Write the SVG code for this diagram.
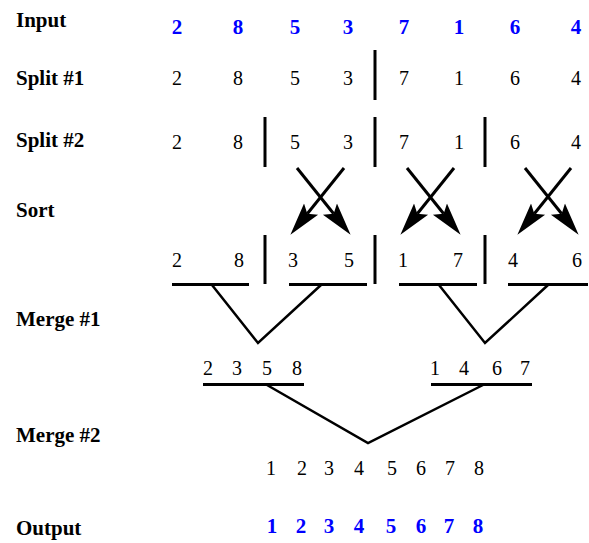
<svg xmlns="http://www.w3.org/2000/svg" width="589" height="543" viewBox="0 0 589 543">
  <style>
    .label { font-family: "Liberation Serif", "Times New Roman", serif; font-weight: bold; font-size: 21px; fill: #000; }
    .num { font-family: "Liberation Serif", "Times New Roman", serif; font-size: 20px; fill: #000; text-anchor: middle; }
    .key { font-family: "Liberation Serif", "Times New Roman", serif; font-weight: bold; font-size: 21px; fill: #0000ff; text-anchor: middle; }
    .bar { stroke: #000; stroke-width: 3; fill: none; }
    .rule { stroke: #000; stroke-width: 3; fill: none; }
    .join { stroke: #000; stroke-width: 2.5; fill: none; stroke-linejoin: miter; }
    .swap { stroke: #000; stroke-width: 3; fill: none; marker-end: url(#head); }
  </style>
  <defs>
    <marker id="head" viewBox="0 -10 34 20" markerWidth="34" markerHeight="20" markerUnits="userSpaceOnUse" refX="6" refY="0" orient="auto">
      <path d="M33,0 L0,-9 L6,0 L0,9 Z" fill="#000"/>
    </marker>
  </defs>
  <rect width="589" height="543" fill="#fff"/>

  <!-- stage names -->
  <g id="stage-labels">
    <text class="label" x="16" y="27">Input</text>
    <text class="label" x="16" y="85">Split #1</text>
    <text class="label" x="16" y="147">Split #2</text>
    <text class="label" x="16" y="217">Sort</text>
    <text class="label" x="16" y="326">Merge #1</text>
    <text class="label" x="16" y="442">Merge #2</text>
    <text class="label" x="16" y="535">Output</text>
  </g>

  <g id="input-row">
    <text class="key" x="177" y="34">2</text>
    <text class="key" x="238" y="34">8</text>
    <text class="key" x="295" y="34">5</text>
    <text class="key" x="348" y="34">3</text>
    <text class="key" x="404" y="34">7</text>
    <text class="key" x="459" y="34">1</text>
    <text class="key" x="515" y="34">6</text>
    <text class="key" x="576" y="34">4</text>
  </g>

  <g id="split1-row">
    <text class="num" x="177" y="85">2</text>
    <text class="num" x="238" y="85">8</text>
    <text class="num" x="295" y="85">5</text>
    <text class="num" x="348" y="85">3</text>
    <text class="num" x="404" y="85">7</text>
    <text class="num" x="459" y="85">1</text>
    <text class="num" x="515" y="85">6</text>
    <text class="num" x="576" y="85">4</text>
  </g>

  <g id="split2-row">
    <text class="num" x="177" y="149">2</text>
    <text class="num" x="238" y="149">8</text>
    <text class="num" x="295" y="149">5</text>
    <text class="num" x="348" y="149">3</text>
    <text class="num" x="404" y="149">7</text>
    <text class="num" x="459" y="149">1</text>
    <text class="num" x="515" y="149">6</text>
    <text class="num" x="576" y="149">4</text>
  </g>

  <g id="sorted-pairs">
    <text class="num" x="177" y="267">2</text>
    <text class="num" x="239" y="267">8</text>
    <text class="num" x="293" y="267">3</text>
    <text class="num" x="349" y="267">5</text>
    <text class="num" x="403" y="267">1</text>
    <text class="num" x="458" y="267">7</text>
    <text class="num" x="513" y="267">4</text>
    <text class="num" x="577" y="267">6</text>
  </g>

  <g id="merge1-left">
    <text class="num" x="208" y="375">2</text>
    <text class="num" x="237" y="375">3</text>
    <text class="num" x="267" y="375">5</text>
    <text class="num" x="297" y="375">8</text>
  </g>

  <g id="merge1-right">
    <text class="num" x="435" y="375">1</text>
    <text class="num" x="464" y="375">4</text>
    <text class="num" x="497" y="375">6</text>
    <text class="num" x="525" y="375">7</text>
  </g>

  <g id="merge2-row">
    <text class="num" x="271" y="475">1</text>
    <text class="num" x="302" y="475">2</text>
    <text class="num" x="329" y="475">3</text>
    <text class="num" x="359" y="475">4</text>
    <text class="num" x="392" y="475">5</text>
    <text class="num" x="421" y="475">6</text>
    <text class="num" x="450" y="475">7</text>
    <text class="num" x="479" y="475">8</text>
  </g>

  <g id="output-row">
    <text class="key" x="272" y="533">1</text>
    <text class="key" x="301" y="533">2</text>
    <text class="key" x="329" y="533">3</text>
    <text class="key" x="359" y="533">4</text>
    <text class="key" x="391" y="533">5</text>
    <text class="key" x="421" y="533">6</text>
    <text class="key" x="449" y="533">7</text>
    <text class="key" x="478" y="533">8</text>
  </g>

  <g id="connectors">
    <!-- split dividers -->
    <line class="bar" x1="375" y1="50" x2="375" y2="100"/>
    <line class="bar" x1="265" y1="117" x2="265" y2="167"/>
    <line class="bar" x1="375" y1="117" x2="375" y2="167"/>
    <line class="bar" x1="485" y1="117" x2="485" y2="167"/>
    <line class="bar" x1="265" y1="235" x2="265" y2="284"/>
    <line class="bar" x1="375" y1="235" x2="375" y2="284"/>
    <line class="bar" x1="485" y1="235" x2="485" y2="284"/>

    <!-- swap crosses -->
    <line class="swap" x1="297" y1="168" x2="333.7" y2="213.7"/>
    <line class="swap" x1="344" y1="168" x2="307.3" y2="213.7"/>
    <line class="swap" x1="407" y1="168" x2="443.7" y2="213.7"/>
    <line class="swap" x1="454" y1="168" x2="417.3" y2="213.7"/>
    <line class="swap" x1="525" y1="168" x2="561.7" y2="213.7"/>
    <line class="swap" x1="571" y1="168" x2="534.3" y2="213.7"/>

    <!-- underlines of sorted pairs -->
    <line class="rule" x1="172" y1="284.5" x2="249" y2="284.5"/>
    <line class="rule" x1="289" y1="284.5" x2="367" y2="284.5"/>
    <line class="rule" x1="399" y1="284.5" x2="477" y2="284.5"/>
    <line class="rule" x1="508" y1="284.5" x2="588" y2="284.5"/>

    <!-- first merge -->
    <polyline class="join" points="212,285 258,343 321,285"/>
    <polyline class="join" points="439,285 485,343 548,285"/>

    <!-- underlines of merged quads -->
    <line class="rule" x1="203" y1="384.5" x2="304" y2="384.5"/>
    <line class="rule" x1="431" y1="384.5" x2="532" y2="384.5"/>

    <!-- second merge -->
    <polyline class="join" points="267,385 368,443 483,385"/>
  </g>
</svg>
